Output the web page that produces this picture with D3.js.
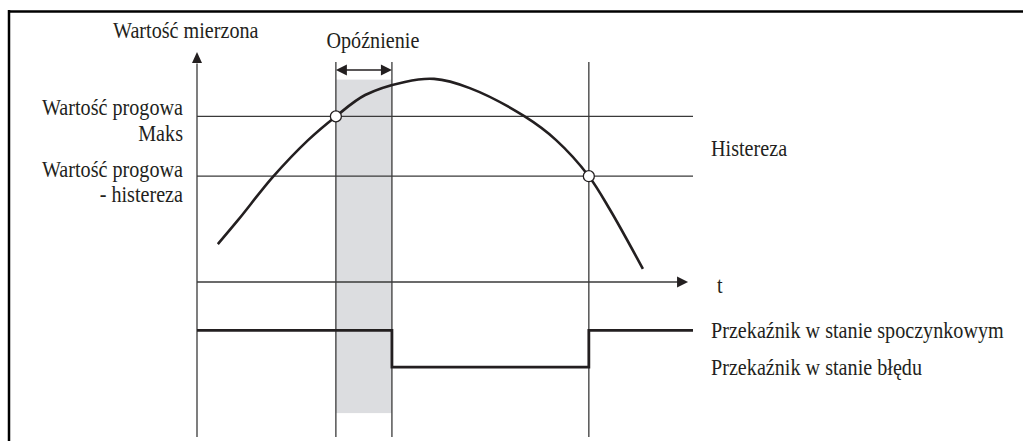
<!DOCTYPE html>
<meta charset="utf-8">
<style>
body { margin: 0; background: #fff; }
text { font-family: "Liberation Serif", serif; font-size: 24px; fill: #231f20; }
.thin { stroke: #3a3a3a; stroke-width: 1.3px; fill: none; }
</style>
<svg width="1023" height="441"></svg>
<script src="https://d3js.org/d3.v7.min.js"></script>
<script>

var curveT = [4.2, 8.3, 15.3, 22.4, 28.0, 33.9, 41.9, 47.8, 55.0, 65.9, 72.4, 79.0, 83.3, 89.9];
var curveV = [16.5, 27.0, 45.7, 61.7, 72, 81.3, 87.0, 88.3, 84.3, 72.2, 61.7, 46, 31.3, 5.7];

// thresholds
var thrMax = 72, thrHyst = 46;
// times: threshold exceeded, relay switched (after delay), back below hysteresis
var events = [28.0, 39.3, 79.0];
// relay state: hi = resting, lo = fault
var relayHi = -21, relayLo = -37;
var relayT = [0, 39.3, 79.0, 100];
var relayS = [relayHi, relayLo, relayHi, relayHi];

var labelsLeft = ["Wartość progowa", "Maks", "Wartość progowa", "- histereza"];
var labelsRight = ["Histereza", "Przekaźnik w stanie spoczynkowym", "Przekaźnik w stanie błędu"];

var svg = d3.select("svg");
var x = d3.scaleLinear().domain([0, 100]).range([197, 693]);
var y = d3.scaleLinear().domain([-70, 100]).range([443, 52]);

// frame
svg.append("line").attr("x1", 8).attr("x2", 1023).attr("y1", 11.5).attr("y2", 11.5)
  .attr("stroke", "#000").attr("stroke-width", 2.5);
svg.append("line").attr("x1", 9).attr("x2", 9).attr("y1", 10).attr("y2", 441)
  .attr("stroke", "#000").attr("stroke-width", 2.5);

// delay band
svg.append("rect")
  .attr("x", x(events[0])).attr("width", x(events[1]) - x(events[0]))
  .attr("y", y(88)).attr("height", y(-57) - y(88))
  .attr("fill", "#dcdde0");

var g = svg.append("g");

// vertical event lines
g.selectAll(".ev").data(events).enter().append("line")
  .attr("class", "thin")
  .attr("x1", d => x(d)).attr("x2", d => x(d))
  .attr("y1", y(95.7)).attr("y2", y(-67.4));

// y axis + arrow
g.append("line").attr("class", "thin")
  .attr("x1", x(0)).attr("x2", x(0)).attr("y1", y(95)).attr("y2", y(-67.4));
g.append("path").attr("fill", "#231f20")
  .attr("d", "M" + x(0) + "," + y(100) + "l-5,11h10z");

// time axis + arrow
g.append("line").attr("class", "thin")
  .attr("x1", x(0)).attr("x2", x(97)).attr("y1", y(0)).attr("y2", y(0));
g.append("path").attr("fill", "#231f20")
  .attr("d", "M" + x(99) + "," + y(0) + "l-11,-5.5v11z");

// threshold lines
g.selectAll(".thr").data([thrMax, thrHyst]).enter().append("line")
  .attr("class", "thin")
  .attr("x1", x(0)).attr("x2", x(100))
  .attr("y1", d => y(d)).attr("y2", d => y(d));

// delay double arrow
var ay = y(92.2), a0 = x(events[0]), a1 = x(events[1]);
g.append("line").attr("stroke", "#231f20").attr("stroke-width", 1.5)
  .attr("x1", a0 + 6).attr("x2", a1 - 6).attr("y1", ay).attr("y2", ay);
g.append("path").attr("fill", "#231f20")
  .attr("d", "M" + a0 + "," + ay + "l11,-5.5v11z M" + a1 + "," + ay + "l-11,-5.5v11z");

// curve
var curve = d3.line().x(d => x(d[0])).y(d => y(d[1])).curve(d3.curveCatmullRom.alpha(0.5));
g.append("path").datum(d3.zip(curveT, curveV))
  .attr("d", curve).attr("fill", "none").attr("stroke", "#231f20").attr("stroke-width", 2.6);

// relay signal
var relay = d3.line().x(d => x(d[0])).y(d => y(d[1])).curve(d3.curveStepAfter);
g.append("path").datum(d3.zip(relayT, relayS))
  .attr("d", relay).attr("fill", "none").attr("stroke", "#231f20").attr("stroke-width", 2.8);

// crossing markers
g.selectAll(".pt").data([[events[0], thrMax], [events[2], thrHyst]]).enter().append("circle")
  .attr("cx", d => x(d[0])).attr("cy", d => y(d[1])).attr("r", 5.5)
  .attr("fill", "#fff").attr("stroke", "#231f20").attr("stroke-width", 1.3);

// labels (condensed serif)
function label(txt, px, py, anchor) {
  svg.append("text")
    .attr("transform", "translate(" + px + "," + py + ") scale(0.84,1)")
    .attr("text-anchor", anchor || "start")
    .text(txt);
}
label("Wartość mierzona", x(0) - 84, 38);
label("Opóźnienie", (a0 + a1) / 2 + 9, 48, "middle");
label(labelsLeft[0], x(0) - 14, y(thrMax) - 1, "end");
label(labelsLeft[1], x(0) - 14, y(thrMax) + 25, "end");
label(labelsLeft[2], x(0) - 14, y(thrHyst) + 1, "end");
label(labelsLeft[3], x(0) - 14, y(thrHyst) + 26, "end");
label(labelsRight[0], x(100) + 18, (y(thrMax) + y(thrHyst)) / 2 + 10);
label("t", x(100) + 24, y(0) + 11);
label(labelsRight[1], x(100) + 18, y(relayHi) + 8);
label(labelsRight[2], x(100) + 18, y(relayLo) + 8);

</script>
